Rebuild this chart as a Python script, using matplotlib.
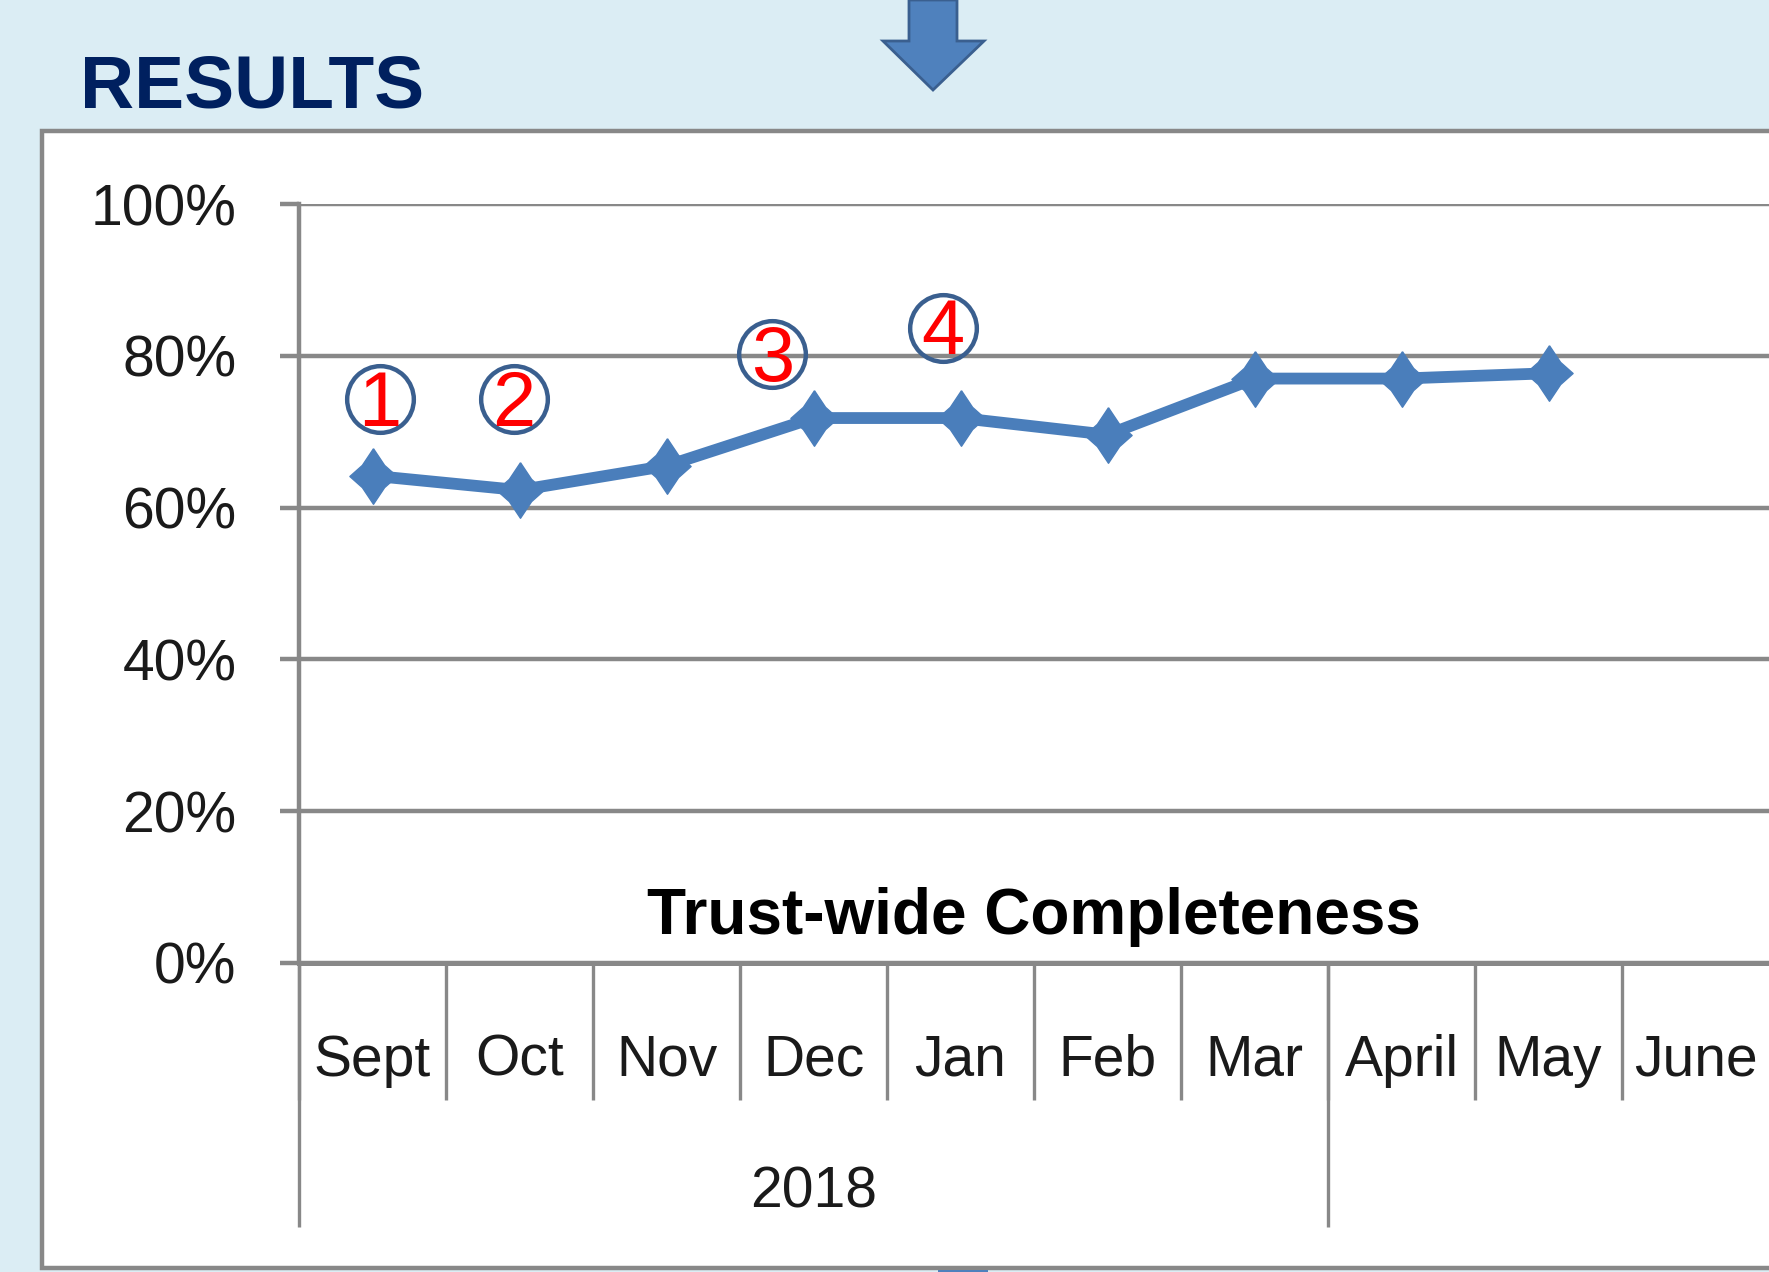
import numpy as np
import matplotlib.pyplot as plt
from matplotlib.patches import Polygon, Rectangle

# Monthly completeness (%)
months = ['Sept', 'Oct', 'Nov', 'Dec', 'Jan', 'Feb', 'Mar', 'April', 'May', 'June']
completeness = [64.2, 62.3, 65.5, 71.8, 71.8, 69.6, 77.0, 77.0, 77.7, np.nan]
year_label = '2018'
year_first, year_last = 0, 6          # Sept .. Mar
y_ticks = [0, 20, 40, 60, 80, 100]

# circled step markers
note_labels = ['1', '2', '3', '4']
note_x = [0.05, 0.96, 2.72, 3.88]
note_y = [74.3, 74.3, 80.2, 83.7]

W, H = 1769, 1272
bg = '#DBEDF4'
grey = '#888888'
blue = '#4A7EBB'


def fx(px):
    return px / W


def fy(py):
    return 1 - py / H


plt.rcParams['font.family'] = ['Liberation Sans', 'DejaVu Sans']

fig = plt.figure(figsize=(W / 100, H / 100), dpi=100, facecolor=bg)

# white chart box
fig.add_artist(Rectangle((fx(42), fy(1268)), fx(1800 - 42), fy(131) - fy(1268),
                         transform=fig.transFigure, facecolor='white',
                         edgecolor=grey, linewidth=3.2, zorder=0))

# arrow at top
arrow = [(909, 0), (957, 0), (957, 41), (984, 41), (933, 90), (883, 41), (909, 41)]
fig.add_artist(Polygon([(fx(a), fy(b)) for a, b in arrow], closed=True,
                       transform=fig.transFigure, facecolor='#4F81BD',
                       edgecolor='#3A5F8F', linewidth=2, zorder=1))
# tail of the next arrow peeking in at the bottom
fig.add_artist(Rectangle((fx(938), fy(1272)), fx(50), fy(1270) - fy(1272),
                         transform=fig.transFigure, facecolor='#4F81BD',
                         edgecolor='none', zorder=1))

fig.text(fx(80), fy(108), 'RESULTS', ha='left', va='baseline', fontsize=54,
         fontweight='bold', color='#00205F')

ax = fig.add_axes([fx(299), fy(963), 1 - fx(299), fy(204) - fy(963)])
ax.patch.set_visible(False)
x = np.arange(len(months))

star = [(0, 1), (0.4, 0.4), (0.85, 0), (0.4, -0.4), (0, -1),
        (-0.4, -0.4), (-0.85, 0), (-0.4, 0.4), (0, 1)]
ax.plot(x, completeness, color=blue, linewidth=8.5, marker=star, markersize=40,
        markerfacecolor=blue, markeredgecolor=blue, solid_joinstyle='round',
        zorder=3)

# circled numbers
ax.plot(note_x, note_y, linestyle='none', marker='o', markersize=48,
        markerfacecolor='none', markeredgecolor='#3A5F8F', markeredgewidth=3.2,
        zorder=4)
for lab, nx, ny in zip(note_labels, note_x, note_y):
    ax.text(nx, ny - 0.8, lab, ha='center', va='center', fontsize=56,
            color='red', zorder=5)

ax.set_xlim(-0.5, len(months) - 0.5)
ax.set_ylim(0, 100)
ax.set_yticks(y_ticks)
ax.set_yticklabels([f'{t}%' for t in y_ticks], fontsize=41, color='#1a1a1a')
ax.tick_params(axis='y', length=14, width=3.2, color=grey, pad=31)
ax.set_xticks([])
ax.yaxis.grid(True, color=grey, linewidth=3.2)
ax.set_axisbelow(True)
for s in ['top', 'right']:
    ax.spines[s].set_visible(False)
ax.spines['left'].set_color(grey)
ax.spines['left'].set_linewidth(3.2)
ax.spines['bottom'].set_color(grey)
ax.spines['bottom'].set_linewidth(3.6)

# category axis: month labels, separators and year group
xt = ax.get_xaxis_transform()
for i, m in enumerate(months):
    ax.text(i, -0.129, m, transform=xt, ha='center', va='center',
            fontsize=41, color='#1a1a1a')
ax.vlines(np.arange(len(months)) - 0.5, -0.1805, 0, transform=xt,
          colors=grey, linewidth=2.4, clip_on=False)
ax.vlines([year_first - 0.5, year_last + 0.5], -0.348, 0, transform=xt,
          colors=grey, linewidth=2.4, clip_on=False)
ax.text((year_first + year_last) / 2, -0.303, year_label, transform=xt,
        ha='center', va='center', fontsize=41, color='#1a1a1a')

ax.text(0.5, 6.0, 'Trust-wide Completeness', transform=ax.get_yaxis_transform(),
        ha='center', va='center', fontsize=46, fontweight='bold', color='black')

fig.savefig('out.png', dpi=100, facecolor=bg)
